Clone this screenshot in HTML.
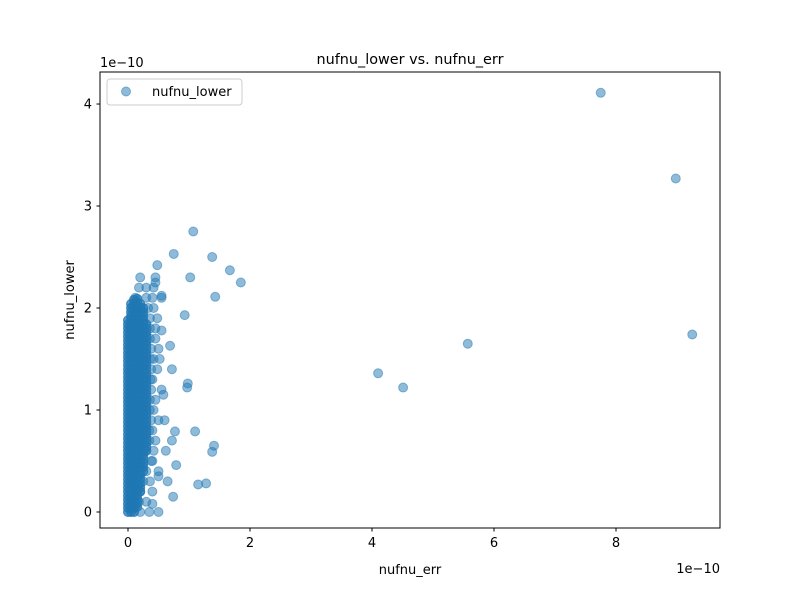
<!DOCTYPE html>
<html><head><meta charset="utf-8"><style>
body{margin:0;background:#fff;font-family:"Liberation Sans","DejaVu Sans",sans-serif;}
svg text{font-family:"DejaVu Sans","Liberation Sans",sans-serif;}
</style></head><body>
<svg id="chart" width="800" height="600" xmlns="http://www.w3.org/2000/svg">
<rect width="800" height="600" fill="#fff"/>
<g id="points"></g>
<rect x="100" y="72" width="620" height="456" fill="none" stroke="#000" stroke-width="1"/>
<g id="axes"></g>
<text x="410" y="64" text-anchor="middle" font-size="14.4">nufnu_lower vs. nufnu_err</text>
<text x="410" y="574" text-anchor="middle" font-size="13">nufnu_err</text>
<text transform="translate(74,300) rotate(-90)" text-anchor="middle" font-size="13">nufnu_lower</text>
<text x="100" y="67" font-size="13">1e−10</text>
<text x="720" y="573" text-anchor="end" font-size="13">1e−10</text>
<g>
<rect x="107" y="79" width="135" height="26" rx="3" fill="#fff" fill-opacity="0.8" stroke="#ccc"/>
<circle cx="126" cy="91.5" r="4.5" fill="#1f77b4" fill-opacity="0.5" stroke="#1f77b4" stroke-opacity="0.5"/>
<text x="152" y="96" font-size="13">nufnu_lower</text>
</g>
</svg>
<script>
const xTicks=[0,2,4,6,8];
const yTicks=[0,1,2,3,4];
const outlierX=[7.75,8.98,9.25,5.57,4.10,4.51,1.07,1.67,1.38,1.85,1.43,1.02,0.75,0.93,0.69,0.98,0.97,1.10,1.41,1.38,1.15,1.28,0.74,0.79,0.77,0.72,0.72,0.55,0.60,0.62,0.52,0.48,0.45,0.58,0.65,0.50,0.55,0.40];
const outlierY=[4.11,3.27,1.74,1.65,1.36,1.22,2.75,2.37,2.50,2.25,2.11,2.30,2.53,1.93,1.63,1.26,1.22,0.79,0.65,0.59,0.27,0.28,0.15,0.46,0.79,0.70,1.40,2.12,0.90,0.60,1.50,2.42,2.25,1.15,0.30,0.35,1.78,0.08];
const coreColX=[0,0.05,0.1,0.15,0.2,0.25,0.3];
const coreColBottom=[0,0,0,0.05,0.2,0.4,0.6];
const coreColTop=[1.9,2.05,2.1,2.1,2.05,2.0,1.85];
const rowY=[0,0.1,0.2,0.3,0.4,0.5,0.6,0.7,0.8,0.9,1.0,1.1,1.2,1.3,1.4,1.5,1.6,1.7,1.8,1.9,2.0,2.1,2.2,2.3];
const rowX=[
[0.2,0.35,0.5],
[0.18,0.3],
[0.2,0.4],
[0.25,0.36],
[0.3,0.5],
[0.38,0.4],
[0.28,0.42],
[0.35,0.45],
[0.35,0.4],
[0.38,0.5],
[0.36,0.42],
[0.36,0.45],
[0.38,0.55],
[0.37,0.4],
[0.38,0.48],
[0.37,0.42],
[0.38,0.5],
[0.36,0.45],
[0.36,0.45],
[0.36,0.48],
[0.33,0.42],
[0.12,0.3,0.4,0.55],
[0.18,0.3,0.42],
[0.2,0.45]];
const NS="http://www.w3.org/2000/svg";
const xMin=-0.459,xMax=9.705,yMin=-0.157,yMax=4.314;
function sx(v){return 100+(v-xMin)/(xMax-xMin)*620;}
function sy(v){return 528-(v-yMin)/(yMax-yMin)*456;}
const pts=document.getElementById('points');
function dot(x,y){
  const c=document.createElementNS(NS,'circle');
  c.setAttribute('cx',sx(x));c.setAttribute('cy',sy(y));c.setAttribute('r',4.5);
  c.setAttribute('fill','#1f77b4');c.setAttribute('fill-opacity','0.5');
  c.setAttribute('stroke','#1f77b4');c.setAttribute('stroke-opacity','0.5');
  
  
  pts.appendChild(c);
}
coreColX.forEach((x,i)=>{
  for(let y=coreColBottom[i];y<=coreColTop[i]+1e-9;y+=0.04){dot(x,y);dot(x,y);}
});
rowY.forEach((y,i)=>rowX[i].forEach(x=>dot(x,y)));
outlierX.forEach((x,i)=>dot(x,outlierY[i]));
const ax=document.getElementById('axes');
xTicks.forEach(t=>{
  const l=document.createElementNS(NS,'line');
  l.setAttribute('x1',sx(t));l.setAttribute('x2',sx(t));l.setAttribute('y1',528);l.setAttribute('y2',531.5);l.setAttribute('stroke','#000');
  
  
  ax.appendChild(l);
  const tx=document.createElementNS(NS,'text');
  tx.setAttribute('x',sx(t));tx.setAttribute('y',547);tx.setAttribute('text-anchor','middle');tx.setAttribute('font-size','13');
  tx.textContent=t;
  
  
  ax.appendChild(tx);
});
yTicks.forEach(t=>{
  const l=document.createElementNS(NS,'line');
  l.setAttribute('x1',96.5);l.setAttribute('x2',100);l.setAttribute('y1',sy(t));l.setAttribute('y2',sy(t));l.setAttribute('stroke','#000');
  
  
  ax.appendChild(l);
  const tx=document.createElementNS(NS,'text');
  tx.setAttribute('x',92);tx.setAttribute('y',sy(t)+4.5);tx.setAttribute('text-anchor','end');tx.setAttribute('font-size','13');
  tx.textContent=t;
  
  
  ax.appendChild(tx);
});
</script>
</body></html>
